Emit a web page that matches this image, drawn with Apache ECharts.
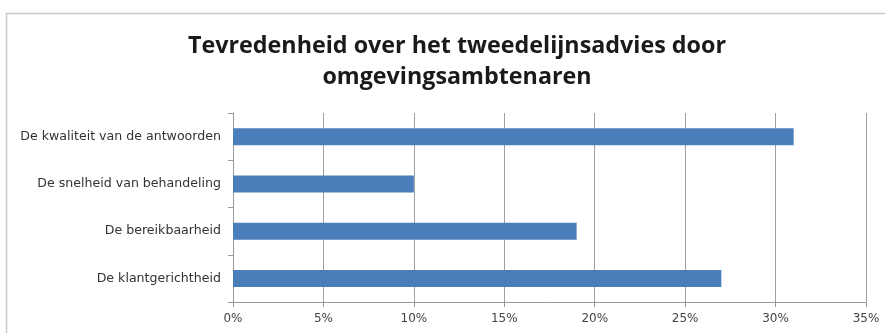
<!DOCTYPE html>
<html>
<head>
<meta charset="utf-8">
<script src="https://cdn.jsdelivr.net/npm/echarts@6/dist/echarts.min.js"></script>
<style>html,body{margin:0;padding:0;background:#fff;}#c{width:885px;height:333px;}</style>
</head>
<body>
<div id="c"></div>
<script>
const titleText = "Tevredenheid over het tweedelijnsadvies door\nomgevingsambtenaren";
const categories = ["De kwaliteit van de antwoorden", "De snelheid van behandeling", "De bereikbaarheid", "De klantgerichtheid"];
const values = [31, 10, 19, 27];
const xTicks = [0, 5, 10, 15, 20, 25, 30, 35];

const chart = echarts.init(document.getElementById('c'), null, {renderer: 'canvas'});
chart.setOption({
  animation: false,
  backgroundColor: '#fff',
  graphic: [{
    type: 'rect', silent: true,
    shape: {x: 6.5, y: 13.5, width: 1000, height: 1000},
    style: {fill: 'none', stroke: '#c8c8c8', lineWidth: 1.5}
  }],
  title: {
    text: titleText,
    left: 452, top: 26, textAlign: 'center',
    textStyle: {fontFamily: 'Open Sans', fontWeight: 'bold', fontSize: 23.3, color: '#1a1a1a', lineHeight: 31}
  },
  grid: {left: 233, right: 19, top: 113, bottom: 31, containLabel: false},
  xAxis: {
    type: 'value', min: xTicks[0], max: xTicks[xTicks.length - 1], interval: 5,
    axisLine: {show: true, lineStyle: {color: '#999', width: 1}},
    axisTick: {show: true, length: 5, lineStyle: {color: '#999'}},
    splitLine: {show: true, lineStyle: {color: '#a0a0a0', width: 1}},
    axisLabel: {formatter: v => v + '%', fontFamily: 'DejaVu Sans', fontSize: 12, color: '#444', margin: 11}
  },
  yAxis: {
    type: 'category', data: categories, inverse: true,
    axisLine: {show: true, lineStyle: {color: '#999', width: 1}},
    axisTick: {show: true, length: 5, alignWithLabel: false, lineStyle: {color: '#999'}},
    axisLabel: {fontFamily: 'DejaVu Sans', fontSize: 12.6, color: '#333', margin: 12}
  },
  series: [{
    type: 'bar', data: values, barWidth: 17,
    itemStyle: {color: '#4a7ebb'}
  }]
});
</script>
</body>
</html>
